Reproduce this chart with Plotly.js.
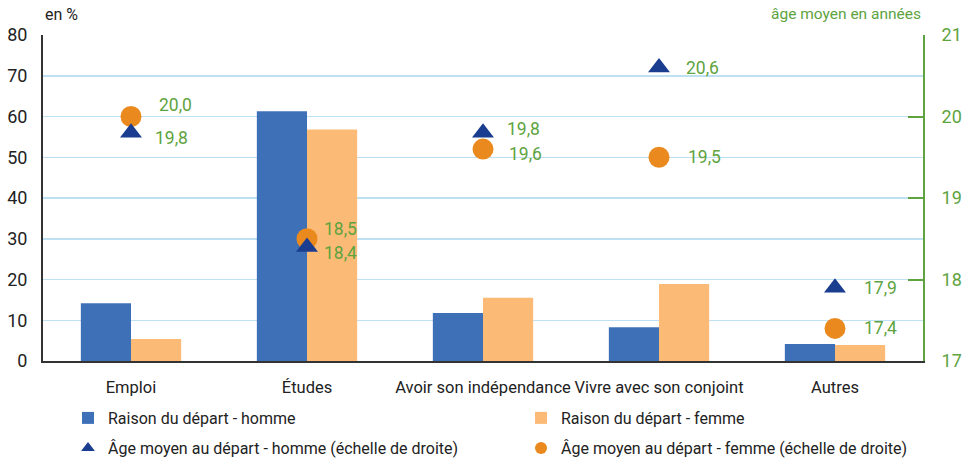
<!DOCTYPE html>
<html>
<head>
<meta charset="utf-8">
<script src="https://cdn.plot.ly/plotly-3.0.1.min.js"></script>
<style>html,body{margin:0;padding:0;background:#fff;}#chart{width:967px;height:460px;}</style>
</head>
<body>
<div id="chart"></div>
<script>
// ---- data ----
var categories = ["Emploi", "Études", "Avoir son indépendance", "Vivre avec son conjoint", "Autres"];
var raisonHomme = [14.2, 61.3, 11.8, 8.3, 4.2];
var raisonFemme = [5.4, 56.8, 15.5, 18.9, 3.9];
var ageHomme = [19.8, 18.4, 19.8, 20.6, 17.9];
var ageFemme = [20.0, 18.5, 19.6, 19.5, 17.4];
var leftTicks = [0, 10, 20, 30, 40, 50, 60, 70, 80];
var rightTicks = [17, 18, 19, 20, 21];

// ---- style (label offsets in px, relative to markers) ----
var offHomme = [[22, 5.5], [15, 6], [22, -3.5], [25, 0], [27, 0]];
var offFemme = [[26, -12], [15, -10], [24, 5], [27, 0], [27, 0]];

var FONT = "Roboto, 'Liberation Sans', sans-serif";
var GREEN = "#5ea340";

function fmt(v) { return v.toFixed(1).replace('.', ','); }

var traces = [
  { type: 'bar', name: 'Raison du départ - homme', x: categories, y: raisonHomme,
    marker: { color: '#3e70b7' }, legend: 'legend', hoverinfo: 'none' },
  { type: 'bar', name: 'Raison du départ - femme', x: categories, y: raisonFemme,
    marker: { color: '#fbbb76' }, legend: 'legend2', hoverinfo: 'none' },
  { type: 'scatter', mode: 'markers', name: 'Âge moyen au départ - femme (échelle de droite)',
    x: categories, y: ageFemme, yaxis: 'y2',
    marker: { symbol: 'circle', size: 21, color: '#ea8a1e' }, legend: 'legend4', hoverinfo: 'none' },
  { type: 'scatter', mode: 'markers', name: 'Âge moyen au départ - homme (échelle de droite)',
    x: categories, y: ageHomme, yaxis: 'y2',
    marker: { symbol: 'triangle-up', size: 19, color: '#1b3d8f' }, legend: 'legend3', hoverinfo: 'none' }
];

var annotations = [
  { text: 'en %', xref: 'paper', yref: 'paper', x: 0, y: 1.0, xanchor: 'left', yanchor: 'bottom',
    yshift: 9, showarrow: false, font: { family: FONT, size: 16, color: '#222' } },
  { text: 'âge moyen en années', xref: 'paper', yref: 'paper', x: 1.0, y: 1.0, xanchor: 'right', yanchor: 'bottom',
    yshift: 10, showarrow: false, font: { family: FONT, size: 15.5, color: GREEN } }
];
categories.forEach(function (c, i) {
  annotations.push({ text: fmt(ageHomme[i]), x: c, y: ageHomme[i], xref: 'x', yref: 'y2',
    xanchor: 'left', yanchor: 'middle', xshift: offHomme[i][0], yshift: -offHomme[i][1],
    showarrow: false, font: { family: FONT, size: 17.5, color: GREEN } });
  annotations.push({ text: fmt(ageFemme[i]), x: c, y: ageFemme[i], xref: 'x', yref: 'y2',
    xanchor: 'left', yanchor: 'middle', xshift: offFemme[i][0], yshift: -offFemme[i][1],
    showarrow: false, font: { family: FONT, size: 17.5, color: GREEN } });
});

function leg(x, y) {
  return { orientation: 'h', xref: 'container', yref: 'container', x: x, xanchor: 'left', y: y, yanchor: 'middle',
    itemsizing: 'constant', font: { family: FONT, size: 16, color: '#222' }, bgcolor: 'rgba(0,0,0,0)', borderwidth: 0 };
}

var layout = {
  width: 967, height: 460,
  margin: { l: 43, r: 44, t: 35, b: 99 },
  paper_bgcolor: '#fff', plot_bgcolor: '#fff',
  font: { family: FONT, size: 18, color: '#222' },
  barmode: 'group', bargap: 0.43, bargroupgap: 0,
  showlegend: true,
  legend: leg(68 / 967, (460 - 418) / 460),
  legend2: leg(521 / 967, (460 - 418) / 460),
  legend3: leg(68 / 967, (460 - 448) / 460),
  legend4: leg(521 / 967, (460 - 448) / 460),
  xaxis: { type: 'category', range: [-0.5, 4.5], showline: true, linecolor: '#333', linewidth: 2,
    showgrid: false, ticks: '', tickangle: 0, automargin: false, ticklabelstandoff: 10,
    tickfont: { family: FONT, size: 16.5, color: '#222' }, fixedrange: true },
  yaxis: { range: [0, 80], tickvals: leftTicks, ticktext: leftTicks.map(String), showline: true, linecolor: '#333', linewidth: 2,
    showgrid: true, gridcolor: '#bfe0f3', gridwidth: 1.5, zeroline: false, ticks: '', ticklabelstandoff: 10,
    automargin: false, tickfont: { family: FONT, size: 18, color: '#222' }, fixedrange: true },
  yaxis2: { overlaying: 'y', side: 'right', range: [17, 21], tickvals: rightTicks, ticktext: rightTicks.map(String),
    showline: true, linecolor: GREEN, linewidth: 2, showgrid: false, zeroline: false,
    ticks: 'inside', ticklen: 15, tickwidth: 2, tickcolor: GREEN, ticklabelstandoff: 13, automargin: false,
    tickfont: { family: FONT, size: 18, color: GREEN }, fixedrange: true },
  annotations: annotations
};

Plotly.newPlot('chart', traces, layout, { displayModeBar: false, staticPlot: true });
</script>
</body>
</html>
